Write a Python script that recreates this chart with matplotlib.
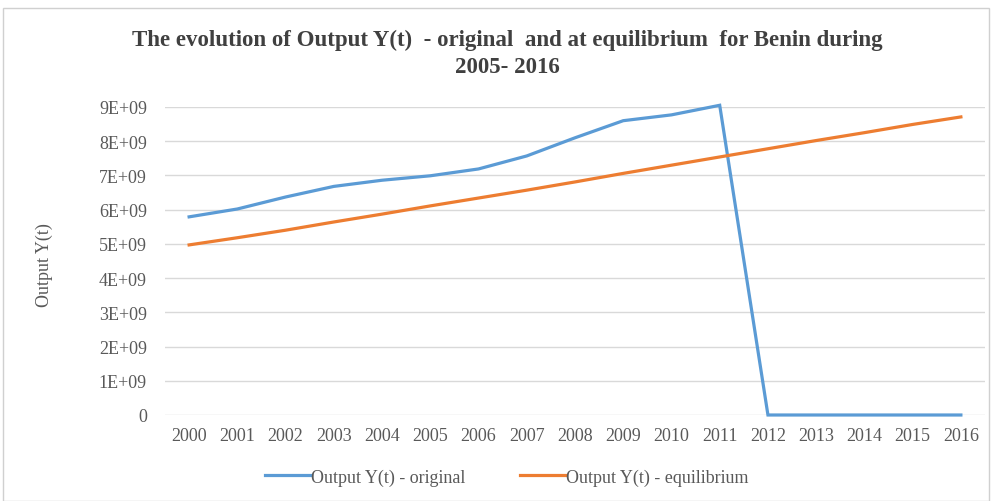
import matplotlib.pyplot as plt
from matplotlib.patches import Rectangle

# data
years = [str(y) for y in range(2000, 2017)]
original = [5.79e9, 6.02e9, 6.37e9, 6.68e9, 6.86e9, 6.99e9, 7.19e9, 7.57e9, 8.10e9,
            8.60e9, 8.77e9, 9.05e9, 0, 0, 0, 0, 0]
equilibrium = [4.97e9, 5.18e9, 5.40e9, 5.64e9, 5.87e9, 6.11e9, 6.34e9, 6.57e9, 6.81e9,
               7.06e9, 7.30e9, 7.54e9, 7.78e9, 8.02e9, 8.25e9, 8.49e9, 8.71e9]
ytick_vals = [i * 1e9 for i in range(10)]
ytick_labels = ["0"] + ["%dE+09" % i for i in range(1, 10)]

plt.rcParams['font.family'] = ['Liberation Serif', 'DejaVu Serif']

fig = plt.figure(figsize=(9.92, 5.02), dpi=100)
ax = fig.add_axes([165 / 992, 86 / 502, 820 / 992, 308 / 502])

x = list(range(len(years)))
ax.plot(x, original, color="#5B9BD5", lw=2.3, label="Output Y(t) - original",
        clip_on=False, solid_joinstyle="miter")
ax.plot(x, equilibrium, color="#ED7D31", lw=2.3, label="Output Y(t) - equilibrium",
        clip_on=False)

ax.set_xlim(-0.5, len(years) - 0.5)
ax.set_ylim(0, 9e9)
ax.set_xticks(x)
ax.set_xticklabels(years, fontsize=13, color="#595959")
ax.set_yticks(ytick_vals)
ax.set_yticklabels(ytick_labels, fontsize=13, color="#595959")
ax.tick_params(length=0)
ax.tick_params(axis='x', pad=9)
ax.tick_params(axis='y', pad=13)
ax.grid(axis='y', color="#d9d9d9", lw=1)
ax.set_axisbelow(True)
for s in ax.spines.values():
    s.set_visible(False)

fig.text(44 / 992, 1 - 265 / 502, "Output Y(t)", rotation=90, ha="center", va="center",
         fontsize=13, color="#595959")
fig.text(507 / 992, 1 - 54 / 502,
         "The evolution of Output Y(t)  - original  and at equilibrium  for Benin during\n2005- 2016",
         ha="center", va="center", fontsize=16.5, fontweight="bold", color="#404040",
         linespacing=1.35)

fig.legend(loc="center", bbox_to_anchor=(507 / 992, 1 - 478 / 502), ncol=2, frameon=False,
           fontsize=13, handlelength=2.5, columnspacing=3.0, handletextpad=0.05,
           labelcolor="#595959")

fig.patches.append(Rectangle((3 / 992, 0), 986 / 992, 1 - 9 / 502, transform=fig.transFigure,
                             fill=False, edgecolor="#d0d0d0", lw=1))

fig.savefig("out.png", dpi=100)
